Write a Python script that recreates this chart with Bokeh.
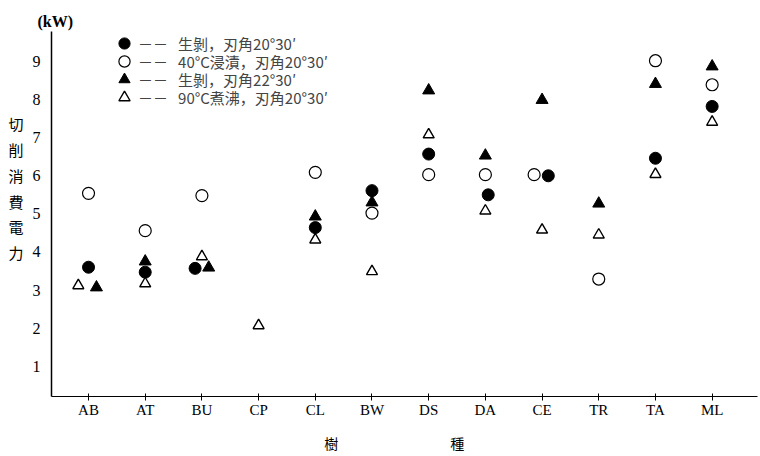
import math
from bokeh.plotting import figure
from bokeh.models import FixedTicker, Range1d, Legend, LegendItem, ColumnDataSource
from bokeh.embed import file_html
from bokeh.resources import INLINE

# ---- data ----
species = ["AB", "AT", "BU", "CP", "CL", "BW", "DS", "DA", "CE", "TR", "TA", "ML"]
nan = float("nan")
raw_20 = [3.60, 3.47, 3.57, nan, 4.64, 5.61, 6.57, 5.50, 6.00, nan, 6.46, 7.82]
soak_40 = [5.54, 4.56, 5.48, nan, 6.09, 5.02, 6.03, 6.03, 6.03, 3.29, 9.02, 8.39]
raw_22 = [3.07, 3.75, 3.59, nan, 4.93, 5.30, 8.24, 6.53, 7.99, 5.27, 8.41, 8.87]
boil_90 = [3.12, 3.17, 3.88, 2.07, 4.32, 3.49, 7.08, 5.08, 4.58, 4.45, 6.04, 7.41]
y_ticks = [1, 2, 3, 4, 5, 6, 7, 8, 9]
legend_labels = ["生剝，刃角20°30′", "40°C浸漬，刃角20°30′", "生剝，刃角22°30′", "90°C煮沸，刃角20°30′"]
y_title = "切削消費電力"
x_title = ["樹", "種"]
unit = "(kW)"

# small horizontal shifts (category units) where markers sit side by side
shift = {
    "raw_20": {"BU": -0.12, "DA": 0.05, "CE": 0.11},
    "soak_40": {"CE": -0.14},
    "raw_22": {"AB": 0.14, "BU": 0.12},
    "boil_90": {"AB": -0.18},
}

serif = "Liberation Serif"
cjk = "Noto Sans CJK JP"

p = figure(width=760, height=456, output_backend="svg", toolbar_location=None,
           x_range=Range1d(-0.653, 11.80), y_range=Range1d(0.207, 9.787),
           min_border_left=51, min_border_right=3, min_border_top=31, min_border_bottom=60)
p.outline_line_color = None
p.xgrid.visible = False
p.ygrid.visible = False
p.background_fill_color = "white"
p.border_fill_color = "white"

# unit label above the y axis
p.title.text = unit
p.title.align = "left"
p.title.offset = -14
p.title.standoff = 3
p.title.text_font = serif
p.title.text_font_size = "16px"
p.title.text_font_style = "bold"
p.title.text_color = "black"

p.xaxis.ticker = FixedTicker(ticks=list(range(len(species))))
p.xaxis.major_label_overrides = {i: s for i, s in enumerate(species)}
p.xaxis.major_label_text_font = serif
p.xaxis.major_label_text_font_size = "15px"
p.xaxis.major_label_text_color = "black"
p.xaxis.major_tick_in = 3
p.xaxis.major_tick_out = 4
p.xaxis.major_label_standoff = 1
p.xaxis.minor_tick_line_color = None
p.xaxis.axis_line_color = "black"
p.xaxis.major_tick_line_color = "black"
p.xaxis.axis_label = x_title[0] + "\u3000" * 8 + x_title[1] + "\u3000" + "\u00a0" * 2
p.xaxis.axis_label_text_font = cjk
p.xaxis.axis_label_text_font_size = "14px"
p.xaxis.axis_label_text_font_style = "normal"
p.xaxis.axis_label_text_color = "black"
p.xaxis.axis_label_standoff = 12

p.yaxis.ticker = FixedTicker(ticks=y_ticks)
p.yaxis.major_label_text_font = serif
p.yaxis.major_label_text_font_size = "16px"
p.yaxis.major_label_text_color = "black"
p.yaxis.major_tick_line_color = None
p.yaxis.minor_tick_line_color = None
p.yaxis.major_label_standoff = 5
p.yaxis.axis_line_color = "black"
p.yaxis.axis_line_width = 1.5
p.yaxis.axis_label = "\n".join(list(y_title) + ["\u3000", "\u3000"])
p.yaxis.axis_label_orientation = "horizontal"
p.yaxis.axis_label_text_font = cjk
p.yaxis.axis_label_text_font_size = "15px"
p.yaxis.axis_label_text_font_style = "normal"
p.yaxis.axis_label_text_color = "black"
p.yaxis.axis_label_text_line_height = 1.23
p.yaxis.axis_label_standoff = 6


def src(name, vals):
    xs, ys = [], []
    for i, (s, v) in enumerate(zip(species, vals)):
        if not math.isnan(v):
            xs.append(i + shift.get(name, {}).get(s, 0.0))
            ys.append(v)
    return ColumnDataSource(dict(x=xs, y=ys))


r1 = p.scatter("x", "y", source=src("raw_20", raw_20), marker="circle", size=12,
               fill_color="black", line_color="black")
r2 = p.scatter("x", "y", source=src("soak_40", soak_40), marker="circle", size=12,
               fill_color="white", line_color="black", line_width=1.2)
r3 = p.scatter("x", "y", source=src("raw_22", raw_22), marker="triangle", size=12,
               fill_color="black", line_color="black")
r4 = p.scatter("x", "y", source=src("boil_90", boil_90), marker="triangle", size=11,
               fill_color="white", line_color="black", line_width=1.4)

# one legend per row so that rows can sit closer than the glyph box height
row_bottoms = [339, 321, 303, 285]
for lab, r, yb in zip(legend_labels, [r1, r2, r3, r4], row_bottoms):
    lg = Legend(items=[LegendItem(label="－－" + "\u00a0" * 3 + lab, renderers=[r])],
                location=(59, yb), padding=0, margin=0, spacing=0,
                glyph_width=28, glyph_height=28, label_height=18, label_standoff=0,
                label_text_font=cjk, label_text_font_size="15px",
                border_line_color=None, background_fill_alpha=0)
    p.add_layout(lg, "center")

open("out.html", "w").write(file_html(p, INLINE))
